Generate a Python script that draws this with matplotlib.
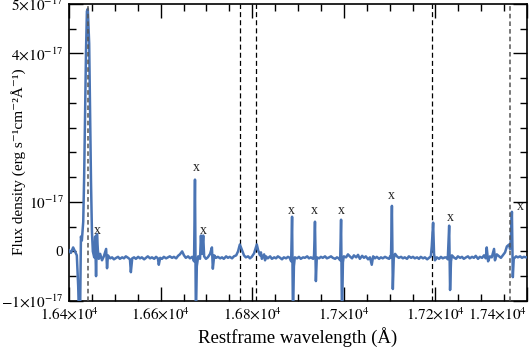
import matplotlib
matplotlib.use("Agg")
import numpy as np
import matplotlib.pyplot as plt
from matplotlib.ticker import FixedLocator, FuncFormatter

plt.rcParams["font.family"] = ["Liberation Serif", "DejaVu Serif"]
plt.rcParams["mathtext.fontset"] = "stix"

# spectrum: restframe wavelength (Angstrom) and flux density (1e-17 erg/s/cm2/A)
wave = [16400, 16404, 16409, 16413, 16417, 16420, 16422, 16424, 16426, 16428,
        16431, 16433, 16435, 16437, 16439, 16441, 16444, 16446, 16448, 16450,
        16452, 16455, 16457, 16459, 16461, 16463, 16465, 16468, 16472, 16476,
        16481, 16483, 16485, 16490, 16494, 16498, 16503, 16507, 16511, 16516,
        16520, 16524, 16529, 16533, 16535, 16538, 16542, 16546, 16551, 16555,
        16559, 16564, 16568, 16572, 16577, 16581, 16586, 16590, 16594, 16596,
        16599, 16603, 16607, 16612, 16616, 16620, 16625, 16629, 16634, 16638,
        16642, 16647, 16651, 16655, 16660, 16664, 16669, 16673, 16675, 16677,
        16679, 16682, 16686, 16688, 16690, 16693, 16695, 16699, 16703, 16708,
        16712, 16714, 16717, 16721, 16725, 16730, 16734, 16738, 16743, 16747,
        16751, 16756, 16760, 16765, 16769, 16773, 16778, 16782, 16786, 16791,
        16795, 16799, 16804, 16808, 16810, 16813, 16817, 16819, 16821, 16826,
        16828, 16830, 16834, 16839, 16843, 16848, 16852, 16856, 16861, 16865,
        16869, 16874, 16878, 16882, 16885, 16887, 16889, 16891, 16893, 16898,
        16902, 16906, 16911, 16915, 16920, 16924, 16928, 16933, 16935, 16937,
        16939, 16941, 16946, 16950, 16954, 16959, 16963, 16968, 16972, 16976,
        16981, 16985, 16989, 16992, 16994, 16996, 16998, 17000, 17005, 17009,
        17013, 17018, 17022, 17027, 17031, 17035, 17040, 17044, 17048, 17053,
        17057, 17061, 17064, 17068, 17072, 17077, 17081, 17085, 17090, 17094,
        17099, 17101, 17103, 17105, 17107, 17109, 17112, 17116, 17120, 17125,
        17129, 17133, 17138, 17142, 17147, 17151, 17155, 17160, 17164, 17168,
        17173, 17177, 17182, 17186, 17190, 17192, 17195, 17197, 17199, 17203,
        17208, 17212, 17216, 17221, 17225, 17227, 17230, 17232, 17234, 17236,
        17240, 17245, 17249, 17254, 17258, 17262, 17267, 17271, 17275, 17280,
        17284, 17288, 17293, 17297, 17302, 17306, 17310, 17312, 17315, 17319,
        17323, 17328, 17330, 17334, 17339, 17343, 17347, 17352, 17356, 17361,
        17363, 17365, 17367, 17369, 17371, 17376, 17380, 17385, 17389, 17393,
        17398, 17400]
flux = [0.02, -0.03, 0.08, 0.00, -0.08, -0.7, -1.4, -1.4, 0.30, 0.22,
        0.6, 1.5, 2.8, 4.0, 4.85, 4.9, 4.2, 2.8, 1.4, 0.4,
        0.0, -0.12, 0.30, -0.50, 0.35, 0.02, -0.15, -0.05, -0.18, -0.10,
        0.05, -0.34, -0.08, -0.14, -0.12, -0.16, -0.13, -0.11, -0.15, -0.12,
        -0.14, -0.10, -0.13, -0.16, -0.42, -0.14, -0.12, -0.15, -0.11, -0.14,
        -0.12, -0.16, -0.13, -0.10, -0.14, -0.12, -0.15, -0.11, -0.14, -0.27,
        -0.13, -0.15, -0.11, -0.14, -0.12, -0.10, -0.13, -0.11, -0.14, -0.09,
        -0.06, 0.00, -0.08, -0.13, -0.10, -0.14, -0.11, -0.20, 1.45, -1.4,
        -0.30, -0.10, -0.15, 0.32, -0.05, 0.32, -0.10, -0.15, -0.12, -0.05,
        0.08, -0.35, -0.08, -0.13, -0.11, -0.14, -0.12, -0.15, -0.10, -0.13,
        -0.11, -0.14, -0.10, -0.08, 0.00, 0.14, 0.02, -0.08, -0.12, -0.10,
        -0.14, -0.11, -0.04, 0.08, 0.14, 0.02, -0.08, -0.02, -0.15, -0.06,
        -0.18, -0.10, -0.14, -0.10, -0.15, -0.12, -0.14, -0.10, -0.13, -0.16,
        -0.12, -0.14, -0.11, -0.13, -0.20, 0.70, -1.4, -0.30, -0.12, -0.14,
        -0.11, -0.15, -0.12, -0.13, -0.10, -0.14, -0.12, -0.15, -0.08, 0.60,
        -0.60, -0.12, -0.14, -0.11, -0.13, -0.10, -0.14, -0.12, -0.10, -0.13,
        -0.15, -0.12, -0.14, -0.18, 0.64, -1.4, -0.22, -0.10, -0.12, -0.06,
        -0.10, -0.14, -0.08, -0.12, -0.07, -0.15, -0.09, -0.13, -0.10, -0.16,
        -0.12, -0.27, -0.10, -0.14, -0.11, -0.15, -0.12, -0.14, -0.11, -0.13,
        -0.15, -0.10, -0.12, 0.92, -0.76, -0.14, -0.05, -0.10, -0.13, -0.11,
        -0.14, -0.12, -0.15, -0.10, -0.13, -0.11, -0.14, -0.12, -0.15, -0.11,
        -0.14, -0.12, -0.16, -0.13, -0.10, 0.10, 0.58, -0.05, -0.18, -0.12,
        -0.15, -0.11, -0.14, -0.12, -0.13, -0.16, 0.52, -0.78, -0.20, -0.08,
        -0.12, -0.15, -0.10, -0.13, -0.11, -0.15, -0.12, -0.10, -0.14, -0.11,
        -0.13, -0.09, -0.15, -0.11, -0.13, -0.08, -0.14, 0.08, -0.20, -0.10,
        -0.12, 0.05, -0.18, -0.06, -0.10, -0.13, -0.08, -0.02, 0.10, 0.14,
        0.05, 0.30, 0.80, -0.52, -0.15, -0.10, -0.12, -0.10, -0.13, -0.11,
        -0.12, -0.12]

# emission line markers
line_black = [16773, 16808, 17192]
line_gray = [16441, 17363]

# "x" flags over the sky residuals
flag_wave = [16461, 16679, 16693, 16885, 16935, 16994, 17103, 17232, 17385]
flag_flux = [0.43, 1.69, 0.43, 0.82, 0.82, 0.82, 1.12, 0.68, 0.90]

xticks = [16400, 16600, 16800, 17000, 17200, 17400]
xticklabels = [r"$1.64{\times}10^{4}$", r"$1.66{\times}10^{4}$", r"$1.68{\times}10^{4}$",
               r"$1.7{\times}10^{4}$", r"$1.72{\times}10^{4}$", r"$1.74{\times}10^{4}$"]
yticks = [-1e-17, 1e-17, 4e-17, 5e-17]
yticklabels = [r"$-1{\times}10^{-17}$", r"$10^{-17}$", r"$4{\times}10^{-17}$", r"$5{\times}10^{-17}$"]

fig = plt.figure(figsize=(5.31, 3.54), dpi=100)
ax = fig.add_axes([0.130, 0.150, 0.8625, 0.839])

ax.plot(wave, np.array(flux) * 1e-17, color="#4a74b4", lw=1.8, zorder=3)

for w in line_black:
    ax.axvline(w, color="black", ls=(0, (4, 2.5)), lw=0.9, zorder=2)
for w in line_gray:
    ax.axvline(w, color="#555555", ls=(0, (3, 2)), lw=1.1, zorder=4)

for w, f in zip(flag_wave, flag_flux):
    ax.text(w, f * 1e-17, "x", fontsize=10, ha="center", va="center", color="#222222")

ax.set_xlim(16400, 17400)
ax.set_ylim(-1e-17, 5e-17)

ax.xaxis.set_major_locator(FixedLocator(xticks))
ax.set_xticklabels(xticklabels)
ax.xaxis.set_minor_locator(FixedLocator(np.arange(16450, 17400, 50)))
ax.yaxis.set_major_locator(FixedLocator(yticks))
ax.set_yticklabels(yticklabels)
ax.yaxis.set_minor_locator(FixedLocator([-0.5e-17, 0, 0.5e-17, 1.5e-17, 2e-17, 2.5e-17,
                                         3e-17, 3.5e-17, 4.5e-17]))
ax.yaxis.set_minor_formatter(FuncFormatter(lambda v, p: "0" if abs(v) < 1e-20 else ""))

ax.tick_params(which="both", direction="in", top=True, right=True, labelsize=11, pad=4)
ax.tick_params(which="major", length=10, width=1)
ax.tick_params(which="minor", length=5, width=1)
ax.xaxis.get_majorticklabels()[-1].set_horizontalalignment("right")

for s in ax.spines.values():
    s.set_linewidth(1.2)

ax.set_xlabel("Restframe wavelength (Å)", fontsize=13.5, labelpad=3)
ax.set_ylabel("Flux density (erg s⁻¹cm⁻²Å⁻¹)", fontsize=11)
ax.yaxis.set_label_coords(-0.093, 0.47)

fig.savefig("out.png", dpi=100)
